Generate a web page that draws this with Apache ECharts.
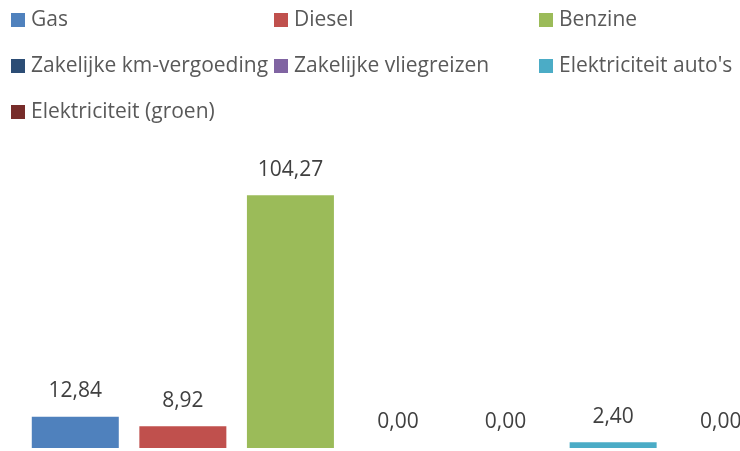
<!DOCTYPE html>
<html>
<head>
<meta charset="utf-8">
<script src="https://cdn.jsdelivr.net/npm/echarts@6/dist/echarts.min.js"></script>
<style>
  html, body { margin: 0; padding: 0; background: #fff; }
  #chart { width: 740px; height: 451px; }
</style>
</head>
<body>
<div id="chart"></div>
<script>
  // series names in chart order
  const seriesNames = ['Gas', 'Diesel', 'Benzine', 'Zakelijke km-vergoeding', 'Zakelijke vliegreizen', "Elektriciteit auto's", 'Elektriciteit (groen)'];
  const seriesValues = [12.84, 8.92, 104.27, 0, 0, 2.40, 0];
  const colorList = ['#4F81BD', '#C0504D', '#9BBB59', '#2C4D75', '#8064A2', '#4BACC6', '#772C2A'];
  const fontFamily = '"Open Sans", sans-serif';

  const chart = echarts.init(document.getElementById('chart'));

  // legend in three columns, one legend per column
  const legendCols = [[0, 3, 6], [1, 4], [2, 5]];
  const legendLeft = [11, 274, 539];
  const legends = legendCols.map((col, i) => ({
    orient: 'vertical',
    left: legendLeft[i],
    top: 9.5,
    padding: 0,
    itemWidth: 14,
    itemHeight: 14,
    itemGap: 25,
    icon: 'rect',
    selectedMode: false,
    textStyle: {
      color: '#595959',
      fontSize: 21,
      fontFamily: fontFamily,
      lineHeight: 20,
      padding: [0, 0, 0, 1]
    },
    data: col.map(k => seriesNames[k])
  }));

  const series = seriesNames.map((name, i) => ({
    name: name,
    type: 'bar',
    stack: 'total',
    barWidth: 87,
    itemStyle: { color: colorList[i] },
    label: {
      show: true,
      position: 'top',
      distance: 15,
      color: '#404040',
      fontSize: 21,
      fontFamily: fontFamily,
      formatter: p => p.value.toFixed(2).replace('.', ',')
    },
    data: seriesValues.map((v, k) => (k === i ? v : '-'))
  }));

  chart.setOption({
    animation: false,
    legend: legends,
    grid: {
      left: 21.5,
      width: 753,
      top: 157,
      bottom: 3,
      outerBoundsMode: 'none'
    },
    xAxis: {
      type: 'category',
      data: seriesNames,
      show: false
    },
    yAxis: {
      type: 'value',
      min: 0,
      max: 120,
      show: false
    },
    series: series
  });
</script>
</body>
</html>
